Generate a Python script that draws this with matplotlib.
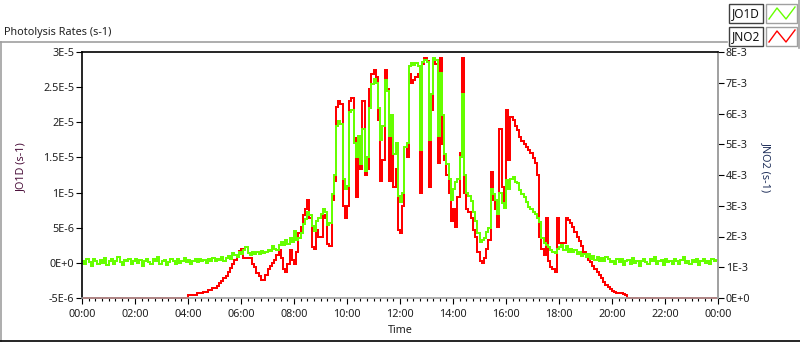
import numpy as np
import matplotlib.pyplot as plt
from matplotlib.patches import Rectangle
from matplotlib.lines import Line2D

plt.rcParams['font.family'] = ['Noto Sans', 'DejaVu Sans']
plt.rcParams['font.size'] = 7.8

# JO1D in units of 1E-6 s-1, one value every 5 minutes (12 per hour)
jo1d = [
    0.3, -0.2, 0.5, 0.1, -0.4, 0.6, 0.2, -0.1, 0.4, 0.0, 0.7, -0.3,
    0.2, 0.5, -0.2, 0.3, 0.8, 0.1, -0.3, 0.4, 0.2, 0.6, -0.1, 0.3,
    0.5, 0.0, 0.4, -0.4, 0.2, 0.6, 0.1, -0.2, 0.5, 0.3, 0.9, -0.1,
    0.2, 0.4, -0.3, 0.1, 0.6, 0.2, -0.2, 0.5, 0.0, 0.3, 0.7, 0.1,
    0.4, -0.1, 0.3, 0.5, 0.1, 0.6, 0.2, 0.4, 0.0, 0.5, 0.3, 0.7,
    0.2, 0.6, 0.4, 0.8, 0.3, 0.7, 1.0, 0.6, 1.4, 1.1, 0.9, 1.5,
    1.3, 1.8, 2.3, 1.4, 1.1, 1.6, 1.2, 1.5, 1.3, 1.7, 1.4, 1.6,
    1.9, 1.7, 2.4, 2.0, 1.8, 2.6, 2.9, 2.5, 3.2, 2.7, 3.6, 3.0,
    4.6, 3.3, 3.5, 4.2, 5.5, 6.2, 7.2, 6.8, 5.2, 4.6, 6.0, 6.4,
    7.0, 7.6, 7.2, 5.4, 5.6, 9.8, 12.5, 19.5, 20.2, 19.8, 12.0, 10.5,
    11.0, 21.5, 21.8, 17.0, 15.0, 18.0, 14.0, 19.0, 13.0, 15.0, 22.0, 25.5,
    26.2, 25.6, 22.0, 17.5, 19.5, 26.0, 24.5, 18.0, 21.0, 15.5, 17.0, 9.5,
    8.6, 10.0, 16.5, 17.0, 28.0, 28.4, 28.2, 28.5, 28.0, 16.0, 28.6, 28.8,
    28.6, 17.5, 24.0, 29.2, 28.8, 18.0, 27.0, 21.0, 15.5, 14.0, 12.0, 9.0,
    10.5, 11.5, 12.0, 15.0, 24.0, 12.5, 10.0, 9.5, 8.8, 7.2, 6.0, 4.2,
    3.0, 3.2, 3.6, 4.4, 5.0, 10.5, 9.8, 9.0, 7.0, 10.0, 8.5, 7.8,
    11.8, 10.5, 12.0, 12.2, 11.5, 11.3, 10.4, 9.8, 9.4, 8.6, 8.0, 7.6,
    7.3, 7.0, 6.4, 5.8, 3.6, 2.8, 2.5, 2.3, 1.8, 1.5, 1.4, 2.0,
    2.2, 2.5, 1.9, 2.4, 1.6, 2.0, 1.5, 1.8, 1.2, 1.6, 1.0, 1.3,
    0.9, 1.2, 0.6, 1.0, 0.4, 0.8, 0.3, 0.7, 0.2, 0.9, 0.5, 0.1,
    0.3, -0.2, 0.5, 0.1, 0.6, -0.3, 0.2, 0.4, -0.1, 0.7, 0.0, 0.3,
    -0.4, 0.2, 0.5, 0.1, -0.2, 0.6, 0.3, 0.9, -0.1, 0.2, 0.4, -0.3,
    0.5, 0.1, 0.3, -0.2, 0.6, 0.2, -0.1, 0.4, 0.8, 0.0, 0.3, -0.2,
    0.4, 0.1, 0.6, -0.3, 0.2, 0.5, 0.0, 0.3, -0.1, 0.5, 0.2, 0.4,
]

# JNO2 in units of 1E-3 s-1, same 5 minute steps
jno2 = [0.0] * 48 + [
    0.1, 0.1, 0.1, 0.1, 0.16, 0.16, 0.16, 0.2, 0.2, 0.26, 0.26, 0.33,
    0.33, 0.39, 0.49, 0.55, 0.65, 0.72, 0.85, 0.98, 1.1, 1.25, 1.4, 1.52,
    1.6, 1.3, 1.3, 1.3, 1.3, 1.1, 1.0, 0.8, 0.7, 0.6, 0.58, 0.75,
    0.95, 1.05, 1.15, 1.25, 1.4, 1.55, 1.3, 0.95, 0.85, 1.1, 1.55, 1.25,
    1.1, 1.5, 2.1, 2.3, 2.7, 2.9, 3.2, 2.6, 1.65, 1.6, 2.2, 2.0,
    2.0, 2.7, 2.6, 1.75, 1.7, 3.2, 3.8, 6.2, 6.4, 6.3, 3.0, 2.6,
    3.0, 6.4, 6.5, 5.2, 3.3, 4.8, 4.2, 6.4, 4.0, 4.2, 6.8, 7.3,
    7.4, 7.2, 5.8, 3.8, 4.5, 7.4, 6.8, 3.8, 5.5, 3.6, 4.2, 2.2,
    2.1, 3.0, 4.9, 4.6, 7.3, 7.0, 7.1, 7.2, 7.3, 3.4, 7.6, 7.8,
    7.7, 3.6, 6.1, 7.8, 7.6, 4.4, 7.8, 5.0, 4.5, 4.0, 3.4, 2.5,
    2.9, 2.3, 3.3, 4.7, 7.8, 3.4, 2.9, 2.8, 2.6, 2.2, 2.0, 1.5,
    1.2, 1.15, 1.3, 1.6, 1.9, 4.1, 3.2, 2.9, 2.3, 5.5, 3.6, 3.0,
    6.1, 4.5, 5.9, 5.8, 5.6, 5.45, 5.25, 5.1, 5.0, 4.9, 4.8, 4.7,
    4.55, 4.4, 4.0, 2.0, 1.6, 1.4, 2.6, 1.2, 1.0, 0.95, 0.85, 2.6,
    1.8, 1.7, 1.8, 2.6, 2.55, 2.45, 2.3, 2.15, 2.0, 1.85, 1.7, 1.5,
    1.35, 1.25, 1.17, 1.05, 0.95, 0.85, 0.75, 0.65, 0.53, 0.42, 0.35, 0.3,
    0.22, 0.2, 0.17, 0.16, 0.15, 0.12, 0.1, 0.0, 0.0, 0.0, 0.0, 0.0,
] + [0.0] * 36

left_ticks = [-5e-6, 0, 5e-6, 1e-5, 1.5e-5, 2e-5, 2.5e-5, 3e-5]
left_labels = ['-5E-6', '0E+0', '5E-6', '1E-5', '1.5E-5', '2E-5', '2.5E-5', '3E-5']
right_ticks = [0, 1e-3, 2e-3, 3e-3, 4e-3, 5e-3, 6e-3, 7e-3, 8e-3]
right_labels = ['0E+0', '1E-3', '2E-3', '3E-3', '4E-3', '5E-3', '6E-3', '7E-3', '8E-3']
hour_ticks = list(range(0, 25, 2))
hour_labels = ['00:00', '02:00', '04:00', '06:00', '08:00', '10:00', '12:00',
               '14:00', '16:00', '18:00', '20:00', '22:00', '00:00']

green = '#66ff00'
red = '#ff0000'
grey = '#a0a0a0'
W, H = 800, 342

fig = plt.figure(figsize=(8, 3.42), dpi=100)

def fx(x):
    return x / W

def fy(y):
    return 1 - y / H

ax = fig.add_axes([fx(82), fy(298), 636 / W, 246 / H])
ax2 = ax.twinx()

# step lines, drawn crisp like the original instrument display
edges = np.arange(len(jo1d) + 1) * 5 / 60.0
ax2.stairs(np.array(jno2) * 1e-3, edges, baseline=None, color=red, lw=1.1,
           clip_on=False, antialiased=False)
ax.stairs(np.array(jo1d) * 1e-6, edges, baseline=None, color=green, lw=1.1,
          clip_on=False, antialiased=False)

ax.set_zorder(ax2.get_zorder() + 1)
ax.patch.set_visible(False)

ax.set_xlim(0, 24)
ax.set_ylim(-5e-6, 3e-5)
ax2.set_ylim(0, 8e-3)

ax.set_xticks(hour_ticks)
ax.set_xticklabels(hour_labels)
ax.set_xticks(np.arange(0, 24.01, 0.25), minor=True)
ax.set_yticks(left_ticks)
ax.set_yticklabels(left_labels)
ax2.set_yticks(right_ticks)
ax2.set_yticklabels(right_labels)

ax.tick_params(axis='x', which='major', length=4, width=0.8, color='black',
               labelcolor='#202020', pad=4)
ax.tick_params(axis='x', which='minor', length=2.5, width=0.8, color='black')
ax.tick_params(axis='y', length=4, width=0.8, color='black', labelcolor='#202020', pad=1.5)
ax2.tick_params(axis='y', length=4, width=0.8, color='black', labelcolor='#202020', pad=1.5)

for s in ['left', 'top']:
    ax.spines[s].set_color('black')
    ax.spines[s].set_linewidth(1.2)
for s in ['bottom', 'right']:
    ax.spines[s].set_color(grey)
    ax.spines[s].set_linewidth(1.2)
for s in ['left', 'top', 'bottom']:
    ax2.spines[s].set_visible(False)
ax2.spines['right'].set_color(grey)
ax2.spines['right'].set_linewidth(1.2)

ax.set_ylabel('JO1D (s-1)', color='#4a0f3a')
ax.yaxis.set_label_coords((27 - 82) / 636, (298 - 167) / 246)
ax2.set_ylabel('JNO2 (s-1)', color='#1f2f5a', rotation=270, va='center')
ax2.yaxis.set_label_coords((766 - 82) / 636, (298 - 167) / 246)
ax.set_xlabel('Time', color='#202020')
ax.xaxis.set_label_coords(0.5, (298 - 325) / 246)

fig.text(fx(4), fy(32), 'Photolysis Rates (s-1)', va='center', ha='left', color='#202020')

# outer frame lines
fig.add_artist(Line2D([fx(0), fx(727)], [fy(42), fy(42)], color=grey, lw=1.2))
fig.add_artist(Line2D([fx(0.5), fx(0.5)], [fy(42), fy(341)], color=grey, lw=1.2))
fig.add_artist(Line2D([fx(0), fx(800)], [fy(341), fy(341)], color='black', lw=1.2))
fig.add_artist(Line2D([fx(799), fx(799)], [fy(0), fy(48)], color=grey, lw=1.2))

# legend
names = ['JO1D', 'JNO2']
colors = [green, red]
for i, (name, c) in enumerate(zip(names, colors)):
    top = 4 + i * 23
    fig.add_artist(Rectangle((fx(729), fy(top + 19)), 34 / W, 19 / H, transform=fig.transFigure,
                             facecolor='white', edgecolor='#404040', lw=1.0))
    fig.text(fx(746), fy(top + 9.5), name, ha='center', va='center', fontsize=8.5, color='#101010')
    fig.add_artist(Rectangle((fx(766), fy(top + 19)), 31 / W, 19 / H, transform=fig.transFigure,
                             facecolor='white', edgecolor=grey, lw=1.0))
    fig.add_artist(Line2D([fx(769), fx(777), fx(786), fx(795)],
                          [fy(top + 15), fy(top + 4), fy(top + 15), fy(top + 3)], color=c, lw=1.0))

fig.savefig('out.png', dpi=100)
